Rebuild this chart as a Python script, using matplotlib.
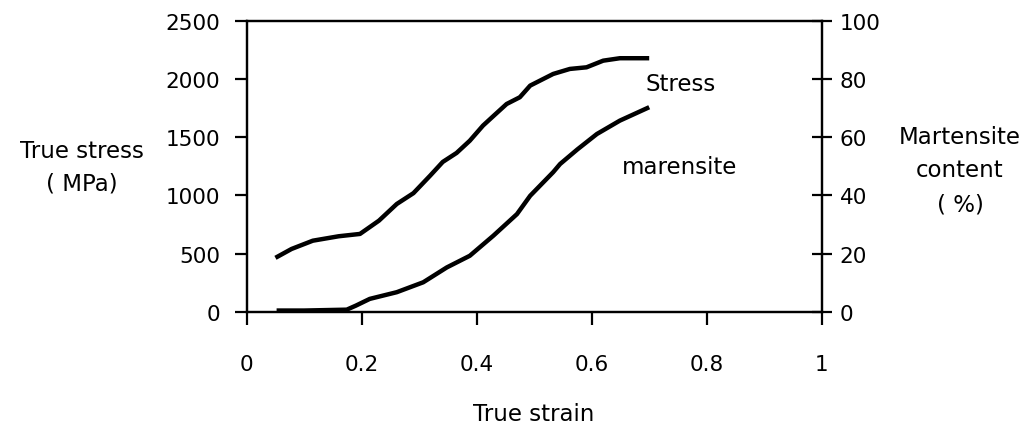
import matplotlib
matplotlib.use("Agg")
import matplotlib.pyplot as plt

# Data
stress_strain = [0.05, 0.078, 0.115, 0.16, 0.197, 0.23, 0.261, 0.29, 0.319, 0.341,
                 0.365, 0.388, 0.411, 0.43, 0.452, 0.475, 0.493, 0.533, 0.562, 0.591,
                 0.62, 0.649, 0.70]
stress_values = [465, 541, 612, 650, 670, 784, 927, 1020, 1170, 1288,
                 1365, 1470, 1600, 1686, 1785, 1843, 1943, 2043, 2086, 2100,
                 2157, 2178, 2178]

mart_strain = [0.052, 0.1, 0.174, 0.19, 0.214, 0.261, 0.307, 0.348, 0.388, 0.429,
               0.47, 0.493, 0.533, 0.545, 0.575, 0.609, 0.649, 0.70]
mart_values = [0.5, 0.5, 0.8, 2.2, 4.5, 6.8, 10.2, 15.3, 19.3, 26.2,
               33.6, 39.9, 48, 50.8, 55.8, 61.1, 65.7, 70.3]

x_ticks = [0, 0.2, 0.4, 0.6, 0.8, 1]
x_ticklabels = ["0", "0.2", "0.4", "0.6", "0.8", "1"]
left_ticks = [0, 500, 1000, 1500, 2000, 2500]
right_ticks = [0, 20, 40, 60, 80, 100]

W, H = 1029, 431
fig = plt.figure(figsize=(W / 100, H / 100), dpi=100)
plt.rcParams['font.family'] = ['DejaVu Sans']
FS = 15.5
LFS = 16.5

def fx(px):
    return px / W

def fy(py):
    return 1 - py / H

ax = fig.add_axes([fx(246.7), fy(313), fx(821.7) - fx(246.7), fy(21.7) - fy(313)])
ax2 = ax.twinx()

ax.plot(stress_strain, stress_values, color='black', lw=3.2, solid_capstyle='butt')
ax2.plot(mart_strain, mart_values, color='black', lw=3.2, solid_capstyle='butt')

ax.set_xlim(0, 1)
ax.set_ylim(0, 2500)
ax2.set_ylim(0, 100)

ax.set_xticks(x_ticks)
ax.set_xticklabels(x_ticklabels)
ax.set_yticks(left_ticks)
ax.set_yticklabels([str(v) for v in left_ticks])
ax2.set_yticks(right_ticks)
ax2.set_yticklabels([str(v) for v in right_ticks])

for a in (ax, ax2):
    for s in a.spines.values():
        s.set_linewidth(1.6)
        s.set_color('black')

ax.tick_params(axis='x', direction='out', length=9, width=1.6, pad=21, labelsize=FS)
ax.tick_params(axis='y', direction='out', length=9, width=1.6, pad=10, labelsize=FS)
ax2.tick_params(axis='y', direction='inout', length=15, width=1.6, pad=5.5, labelsize=FS)

# Annotations (data coordinates)
ax.text(0.693, 1957, "Stress", fontsize=LFS, ha='left', va='center')
ax.text(0.653, 1253, "marensite", fontsize=LFS, ha='left', va='center')

fig.text(fx(534), fy(415), "True strain", fontsize=LFS, ha='center', va='center')
fig.text(fx(82), fy(168), "True stress\n( MPa)", fontsize=LFS, ha='center', va='center',
         linespacing=1.55)
fig.text(fx(960), fy(171), "Martensite\ncontent\n( %)", fontsize=LFS, ha='center', va='center',
         linespacing=1.6)

fig.savefig("out.png", dpi=100, facecolor='white')
